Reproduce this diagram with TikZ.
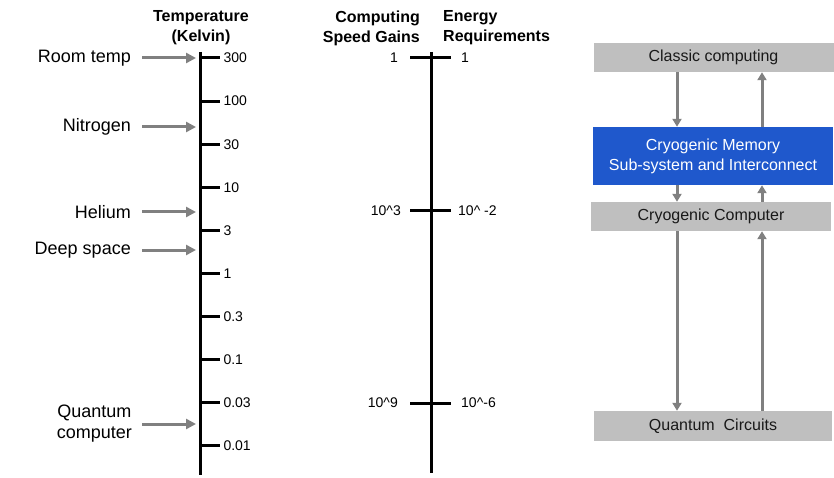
\documentclass[tikz,border=0pt]{standalone}
\usepackage{fontspec}
\setmainfont{Liberation Sans}
\usetikzlibrary{arrows.meta, positioning}

\definecolor{arrgray}{RGB}{128,128,128}
\definecolor{boxgray}{RGB}{191,191,191}
\definecolor{memblue}{RGB}{31,88,204}

\begin{document}
\begin{tikzpicture}[x=1pt, y=1pt,
  head/.style={font=\fontsize{16}{20}\selectfont\bfseries, inner sep=0pt},
  place/.style={font=\fontsize{18}{21}\selectfont, inner sep=0pt,
                align=center, anchor=east},
  ticklbl/.style={font=\fontsize{14}{16}\selectfont, inner sep=0pt},
  bar/.style={line width=3pt},
  pointer/.style={draw=arrgray, line width=3pt,
                  -{Triangle[length=10pt, width=10pt]}, shorten >=4pt},
  layer/.style={fill=boxgray, minimum width=240pt, minimum height=29pt,
                inner sep=0pt, align=center,
                font=\fontsize{16}{20}\selectfont, text=black!90},
  flow/.style={draw=arrgray, line width=3pt,
               -{Triangle[length=8pt, width=9pt]}}
]
  \useasboundingbox (0,0) rectangle (834,-478);

  % temperature scale
  \node[head, align=center] (thead) at (201,-28) {Temperature\\(Kelvin)};
  \coordinate (ttop) at (200,-52);
  \coordinate (tbot) at (200,-475);
  \draw[bar] (ttop) -- (tbot);
  \foreach \v [count=\i from 0] in {300,100,30,10,3,1,0.3,0.1,0.03,0.01}
    \draw[bar] (200,{-58-43.1*\i}) -- ++(20,0)
      node[ticklbl, anchor=west, xshift=2pt] (k\i) {\v};

  \node[place] (room)  at (131,-58)  {Room temp};
  \node[place] (nitro) at (131,-127) {Nitrogen};
  \node[place] (hel)   at (131,-212) {Helium};
  \node[place] (deep)  at (131,-250) {Deep space};
  \node[place] (qc)    at (132,-424) {Quantum\\computer};
  \draw[pointer] ([xshift=11pt]room.east)  -- (room.east -| ttop);
  \draw[pointer] ([xshift=11pt]nitro.east) -- (nitro.east -| ttop);
  \draw[pointer] ([xshift=11pt]hel.east)   -- (hel.east -| ttop);
  \draw[pointer] ([xshift=11pt]deep.east)  -- (deep.east -| ttop);
  \draw[pointer] ([xshift=10pt]qc.east)    -- (qc.east -| ttop);

  % speed / energy scale
  \node[head, align=right, anchor=east] (shead) at (420,-28) {Computing\\Speed Gains};
  \node[head, align=left, anchor=west]  (ehead) at (443,-28) {Energy\\Requirements};
  \coordinate (stop) at (431,-52);
  \coordinate (sbot) at (431,-473);
  \draw[bar] (stop) -- (sbot);
  \draw[bar] (410,-58)  -- (451,-58);
  \draw[bar] (410,-211) -- (451,-211);
  \draw[bar] (410,-403) -- (451,-403);
  \node[ticklbl, anchor=east] (s1) at (398,-58)  {1};
  \node[ticklbl, anchor=east] (s2) at (401,-211) {10\textasciicircum3};
  \node[ticklbl, anchor=east] (s3) at (398,-403) {10\textasciicircum9};
  \node[ticklbl, anchor=west] (e1) at (461,-58)  {1};
  \node[ticklbl, anchor=west] (e2) at (458,-211) {10\textasciicircum\ -2};
  \node[ticklbl, anchor=west] (e3) at (461,-403) {10\textasciicircum-6};

  % system stack
  \node[layer] (classic) at (713.5,-57.5) {Classic computing};
  \node[layer, fill=memblue, text=white, minimum height=58pt]
               (mem)     at (713,-156)    {Cryogenic Memory\\Sub-system and Interconnect};
  \node[layer] (cryo)    at (711,-216.5)  {Cryogenic Computer};
  \node[layer, minimum width=238pt, minimum height=30pt]
               (quant)   at (713,-426)    {Quantum~ Circuits};
  \coordinate (dn) at (677,0);
  \coordinate (upx) at (762,0);
  \draw[flow] (classic.south -| dn) -- (mem.north -| dn);
  \draw[flow] (mem.north -| upx)    -- (classic.south -| upx);
  \draw[flow] (mem.south -| dn)     -- (cryo.north -| dn);
  \draw[flow] (cryo.north -| upx)   -- (mem.south -| upx);
  \draw[flow] (cryo.south -| dn)    -- (quant.north -| dn);
  \draw[flow] (quant.north -| upx)  -- (cryo.south -| upx);
\end{tikzpicture}
\end{document}
